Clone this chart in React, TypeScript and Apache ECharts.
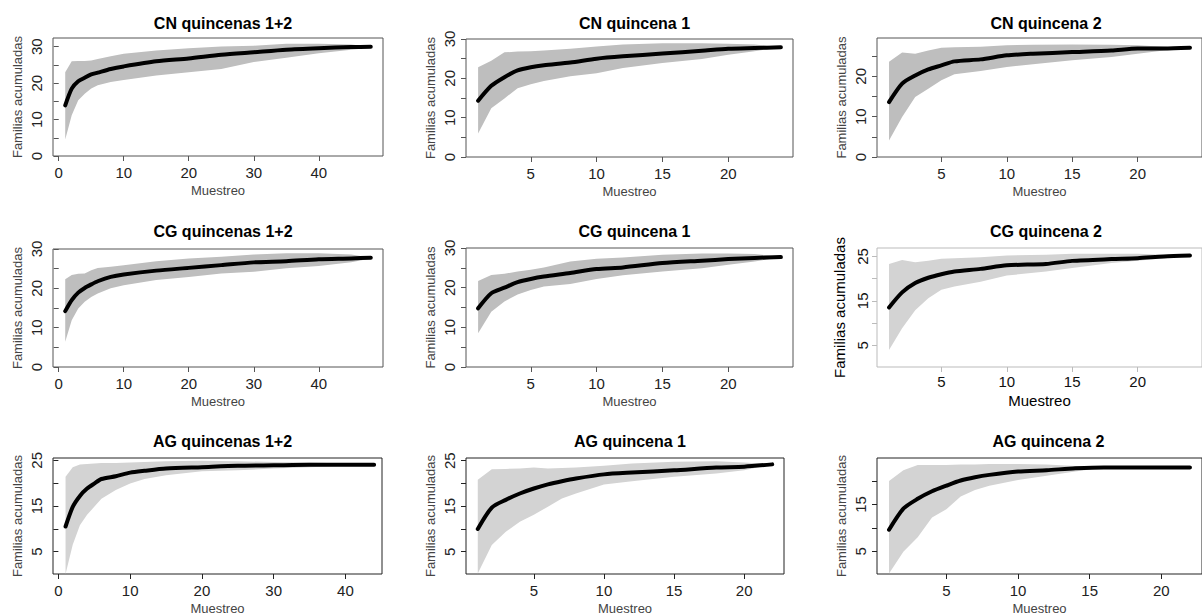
import React, { useEffect, useRef } from "react";
import * as echarts from "echarts";

// ---------- DATA ----------
const titles = [
  "CN quincenas 1+2", "CN quincena 1", "CN quincena 2",
  "CG quincenas 1+2", "CG quincena 1", "CG quincena 2",
  "AG quincenas 1+2", "AG quincena 1", "AG quincena 2",
];
const xLabel = "Muestreo";
const yLabel = "Familias acumuladas";

// CN quincenas 1+2
const cn12X = [1, 2, 3, 4, 5, 6, 8, 10, 15, 20, 25, 30, 35, 40, 45, 48];
const cn12Mean = [13.9, 18.5, 20.5, 21.5, 22.4, 22.9, 23.9, 24.6, 26.0, 26.8, 27.8, 28.5, 29.2, 29.6, 29.9, 30.0];
const cn12Upper = [23.0, 26.0, 26.1, 26.1, 26.2, 26.6, 27.4, 28.1, 29.0, 29.6, 30.1, 30.3, 30.8, 30.8, 30.6, 30.0];
const cn12Lower = [4.5, 11.2, 15.3, 17.1, 18.5, 19.4, 20.3, 20.9, 22.1, 23.0, 23.9, 25.8, 27.0, 28.2, 29.2, 29.7];

// CN quincena 1
const cn1X = [1, 2, 3, 4, 5, 6, 8, 10, 12, 15, 18, 20, 22, 24];
const cn1Mean = [14.3, 18.1, 20.3, 22.0, 22.8, 23.3, 24.0, 25.0, 25.6, 26.3, 27.0, 27.5, 27.7, 27.9];
const cn1Upper = [22.8, 24.5, 26.6, 26.8, 26.9, 27.1, 27.5, 28.1, 28.6, 28.9, 28.9, 28.8, 28.6, 27.9];
const cn1Lower = [6.0, 12.4, 14.9, 17.5, 18.5, 19.3, 20.5, 21.3, 22.6, 23.9, 24.9, 26.0, 26.9, 27.9];

// CN quincena 2
const cn2X = [1, 2, 3, 4, 5, 6, 8, 10, 12, 15, 18, 20, 22, 24];
const cn2Mean = [13.6, 18.2, 20.2, 21.7, 22.7, 23.7, 24.2, 25.2, 25.6, 26.0, 26.4, 26.9, 26.9, 27.1];
const cn2Upper = [23.6, 25.9, 25.6, 26.4, 27.1, 27.2, 27.3, 27.7, 27.8, 27.9, 27.8, 27.7, 27.3, 27.1];
const cn2Lower = [4.1, 9.9, 14.9, 16.9, 19.0, 20.5, 21.3, 22.3, 23.0, 24.0, 24.8, 25.6, 26.4, 27.1];

// CG quincenas 1+2
const cg12X = [1, 2, 3, 4, 5, 6, 8, 10, 15, 20, 25, 30, 35, 40, 45, 48];
const cg12Mean = [14.2, 17.0, 18.9, 20.1, 21.0, 21.8, 22.9, 23.5, 24.5, 25.2, 25.9, 26.6, 26.9, 27.4, 27.6, 27.8];
const cg12Upper = [22.3, 23.4, 23.7, 23.8, 24.6, 25.2, 25.5, 25.9, 26.9, 27.6, 28.0, 28.6, 28.9, 28.9, 28.6, 27.8];
const cg12Lower = [6.4, 11.9, 14.9, 16.6, 17.8, 18.7, 20.0, 20.8, 22.1, 22.9, 23.8, 24.2, 25.1, 25.7, 26.6, 27.6];

// CG quincena 1
const cg1X = [1, 2, 3, 4, 5, 6, 8, 10, 12, 15, 18, 20, 22, 24];
const cg1Mean = [14.8, 18.6, 20.0, 21.4, 22.2, 22.8, 23.7, 24.7, 25.1, 26.2, 26.8, 27.2, 27.5, 27.7];
const cg1Upper = [21.7, 23.2, 23.5, 24.1, 24.5, 25.1, 26.6, 27.3, 27.6, 28.3, 28.6, 28.6, 28.5, 27.7];
const cg1Lower = [8.5, 13.9, 16.5, 18.3, 19.4, 20.3, 20.9, 22.2, 23.1, 24.1, 24.9, 25.8, 26.6, 27.7];

// CG quincena 2
const cg2X = [1, 2, 3, 4, 5, 6, 8, 10, 13, 15, 18, 20, 22, 24];
const cg2Mean = [13.5, 16.9, 19.0, 20.2, 21.0, 21.6, 22.2, 23.0, 23.3, 24.0, 24.4, 24.6, 25.0, 25.2];
const cg2Upper = [23.3, 24.2, 23.7, 24.0, 24.5, 24.6, 24.8, 25.2, 25.4, 25.6, 25.6, 25.6, 25.4, 25.2];
const cg2Lower = [3.9, 8.8, 12.9, 15.6, 17.5, 18.2, 19.3, 20.7, 21.6, 22.4, 23.5, 24.0, 24.6, 25.2];

// AG quincenas 1+2
const ag12X = [1, 2, 3, 4, 5, 6, 8, 10, 12, 15, 20, 25, 30, 35, 40, 44];
const ag12Mean = [10.5, 14.8, 17.2, 18.8, 19.9, 20.9, 21.5, 22.3, 22.7, 23.2, 23.5, 23.8, 23.9, 24.0, 24.0, 24.0];
const ag12Upper = [21.4, 23.5, 24.1, 24.2, 24.3, 24.4, 24.4, 24.5, 24.6, 24.8, 24.9, 24.8, 24.6, 24.5, 24.3, 24.0];
const ag12Lower = [0.1, 6.5, 10.8, 13.1, 14.8, 16.6, 18.5, 19.9, 20.9, 21.7, 22.6, 22.8, 23.2, 23.5, 23.8, 24.0];

// AG quincena 1
const ag1X = [1, 2, 3, 4, 5, 6, 7, 8, 10, 12, 15, 18, 20, 22];
const ag1Mean = [10.0, 14.7, 16.4, 17.8, 18.9, 19.8, 20.5, 21.1, 22.0, 22.4, 22.9, 23.5, 23.7, 24.2];
const ag1Upper = [20.8, 23.1, 23.2, 23.3, 23.5, 23.3, 23.4, 23.5, 23.9, 24.4, 24.8, 24.9, 24.6, 24.2];
const ag1Lower = [0.2, 6.5, 9.4, 11.6, 13.1, 14.9, 16.7, 17.8, 19.8, 20.5, 21.5, 22.2, 22.9, 24.2];

// AG quincena 2
const ag2X = [1, 2, 3, 4, 5, 6, 7, 8, 10, 12, 14, 16, 18, 20, 22];
const ag2Mean = [9.6, 14.1, 16.2, 17.8, 19.0, 20.1, 20.8, 21.3, 22.0, 22.3, 22.7, 22.9, 22.9, 22.9, 22.9];
const ag2Upper = [20.0, 22.3, 23.4, 23.4, 23.4, 23.5, 23.5, 23.6, 23.6, 23.5, 23.2, 23.0, 22.9, 22.9, 22.9];
const ag2Lower = [0.3, 4.9, 8.0, 12.2, 14.0, 16.7, 18.1, 19.0, 20.2, 21.1, 22.0, 22.9, 22.9, 22.9, 22.9];

// tick values
const xTicksLong = [0, 10, 20, 30, 40];
const xTicksShort = [5, 10, 15, 20];
const yTicks0to30 = [0, 5, 10, 15, 20, 25, 30];
const yLabels0to30 = [0, 10, 20, 30];
const yTicks0to25 = [0, 5, 10, 15, 20, 25];
const yLabels0to20 = [0, 10, 20];
const yTicks5to25 = [5, 10, 15, 20, 25];
const yLabels5to25 = [5, 15, 25];
const yTicks5to20 = [5, 10, 15, 20];
const yLabels5to15 = [5, 15];

// ---------- LAYOUT / STYLE ----------
const FONT = "'Liberation Sans', Arial, Helvetica, sans-serif";
const GRAY_DARK = "#bebebe";
const GRAY_LIGHT = "#d3d3d3";

type Panel = {
  xs: number[]; mean: number[]; upper: number[]; lower: number[];
  box: [number, number, number, number];
  xr: [number, number]; yr: [number, number];
  xTicks: number[]; yTicks: number[]; yLabels: number[];
  band: string; border: string; nameColor: string; tickColor: string;
  nameSize: number; big?: boolean;
};

const panels: Panel[] = [
  { xs: cn12X, mean: cn12Mean, upper: cn12Upper, lower: cn12Lower, box: [53, 38, 330, 118], xr: [-0.88, 49.88], yr: [0, 32.4], xTicks: xTicksLong, yTicks: yTicks0to30, yLabels: yLabels0to30, band: GRAY_DARK, border: "#555", nameColor: "#444", tickColor: "#222", nameSize: 13 },
  { xs: cn1X, mean: cn1Mean, upper: cn1Upper, lower: cn1Lower, box: [466, 39, 327, 118], xr: [0.08, 24.92], yr: [0, 30], xTicks: xTicksShort, yTicks: yTicks0to30, yLabels: yLabels0to30, band: GRAY_DARK, border: "#555", nameColor: "#444", tickColor: "#222", nameSize: 13 },
  { xs: cn2X, mean: cn2Mean, upper: cn2Upper, lower: cn2Lower, box: [877, 38, 328, 119], xr: [0.08, 24.92], yr: [0, 29.5], xTicks: xTicksShort, yTicks: yTicks0to25, yLabels: yLabels0to20, band: GRAY_DARK, border: "#555", nameColor: "#444", tickColor: "#222", nameSize: 13 },
  { xs: cg12X, mean: cg12Mean, upper: cg12Upper, lower: cg12Lower, box: [53, 249, 330, 118], xr: [-0.88, 49.88], yr: [0, 30], xTicks: xTicksLong, yTicks: yTicks0to30, yLabels: yLabels0to30, band: GRAY_DARK, border: "#555", nameColor: "#444", tickColor: "#222", nameSize: 13 },
  { xs: cg1X, mean: cg1Mean, upper: cg1Upper, lower: cg1Lower, box: [466, 248, 327, 119], xr: [0.08, 24.92], yr: [0, 30], xTicks: xTicksShort, yTicks: yTicks0to30, yLabels: yLabels0to30, band: GRAY_DARK, border: "#555", nameColor: "#444", tickColor: "#222", nameSize: 13 },
  { xs: cg2X, mean: cg2Mean, upper: cg2Upper, lower: cg2Lower, box: [877, 248, 328, 119], xr: [0.08, 24.92], yr: [0.09, 26.9], xTicks: xTicksShort, yTicks: yTicks5to25, yLabels: yLabels5to25, band: GRAY_LIGHT, border: "#bbb", nameColor: "#000", tickColor: "#111", nameSize: 15, big: true },
  { xs: ag12X, mean: ag12Mean, upper: ag12Upper, lower: ag12Lower, box: [53, 458, 329, 118], xr: [-0.75, 45.1], yr: [0.1, 25.5], xTicks: xTicksLong, yTicks: yTicks5to25, yLabels: yLabels5to25, band: GRAY_LIGHT, border: "#222", nameColor: "#444", tickColor: "#222", nameSize: 13 },
  { xs: ag1X, mean: ag1Mean, upper: ag1Upper, lower: ag1Lower, box: [466, 458, 318, 118], xr: [0.16, 22.84], yr: [0.1, 25.6], xTicks: xTicksShort, yTicks: yTicks5to25, yLabels: yLabels5to25, band: GRAY_LIGHT, border: "#222", nameColor: "#444", tickColor: "#222", nameSize: 13 },
  { xs: ag2X, mean: ag2Mean, upper: ag2Upper, lower: ag2Lower, box: [877, 458, 333, 118], xr: [0.16, 22.84], yr: [0.17, 24.9], xTicks: xTicksShort, yTicks: yTicks5to20, yLabels: yLabels5to15, band: GRAY_LIGHT, border: "#222", nameColor: "#444", tickColor: "#222", nameSize: 13 },
];

const titleTops = [10, 10, 10, 218, 218, 218, 428, 428, 428];

function buildOption() {
  const grid: any[] = [];
  const xAxis: any[] = [];
  const yAxis: any[] = [];
  const series: any[] = [];
  const title: any[] = [];

  panels.forEach((p, i) => {
    const [l, t, w, h] = p.box;
    grid.push({ left: l, top: t, width: w, height: h, show: true, borderColor: p.border, borderWidth: 1, backgroundColor: "transparent", containLabel: false });
    title.push({
      text: titles[i], left: l + w / 2, top: titleTops[i], textAlign: "center",
      textStyle: { fontFamily: FONT, fontSize: 16, fontWeight: "bold", color: "#000" },
    });
    xAxis.push({
      type: "value", gridIndex: i, min: p.xr[0], max: p.xr[1],
      axisLine: { show: false }, splitLine: { show: false },
      axisTick: { show: true, length: 5, customValues: p.xTicks, lineStyle: { color: p.border, width: 1 } },
      axisLabel: { customValues: p.xTicks, fontFamily: FONT, fontSize: 15, color: p.tickColor, margin: p.big ? 7 : 9 },
      name: xLabel, nameLocation: "middle", nameGap: p.big ? 26 : 28,
      nameTextStyle: { fontFamily: FONT, fontSize: p.nameSize, color: p.nameColor },
    });
    yAxis.push({
      type: "value", gridIndex: i, min: p.yr[0], max: p.yr[1],
      axisLine: { show: false }, splitLine: { show: false },
      axisTick: { show: true, length: 5, customValues: p.yTicks, lineStyle: { color: p.border, width: 1 } },
      axisLabel: { customValues: p.yLabels, rotate: 90, fontFamily: FONT, fontSize: 15, color: p.tickColor, margin: p.big ? 7 : 9 },
      name: yLabel, nameLocation: "middle", nameGap: p.big ? 30 : 29,
      nameTextStyle: { fontFamily: FONT, fontSize: p.nameSize, color: p.nameColor },
    });
    const xs = p.xs, up = p.upper, lo = p.lower, col = p.band;
    series.push({
      type: "custom", xAxisIndex: i, yAxisIndex: i, silent: true, clip: true,
      data: [[xs[0], lo[0]]],
      renderItem: (_params: any, api: any) => {
        const pts: number[][] = [];
        for (let j = 0; j < xs.length; j++) pts.push(api.coord([xs[j], up[j]]));
        for (let j = xs.length - 1; j >= 0; j--) pts.push(api.coord([xs[j], lo[j]]));
        return { type: "polygon", shape: { points: pts }, style: { fill: col, stroke: null } };
      },
      z: 1,
    });
    series.push({
      type: "line", xAxisIndex: i, yAxisIndex: i, silent: true,
      data: xs.map((x, j) => [x, p.mean[j]]),
      symbol: "none", smooth: 0.25,
      lineStyle: { color: "#000", width: 4, cap: "round", join: "round" },
      z: 3,
    });
  });

  return { animation: false, backgroundColor: "#fff", title, grid, xAxis, yAxis, series };
}

export default function App() {
  const ref = useRef<HTMLDivElement>(null);
  useEffect(() => {
    if (!ref.current) return;
    const chart = echarts.init(ref.current, null, { renderer: "svg" });
    chart.setOption(buildOption() as any);
    return () => chart.dispose();
  }, []);
  return (
    <div
      ref={ref}
      style={{ position: "fixed", left: 0, top: 0, width: 1202, height: 616, background: "#fff" }}
    />
  );
}
